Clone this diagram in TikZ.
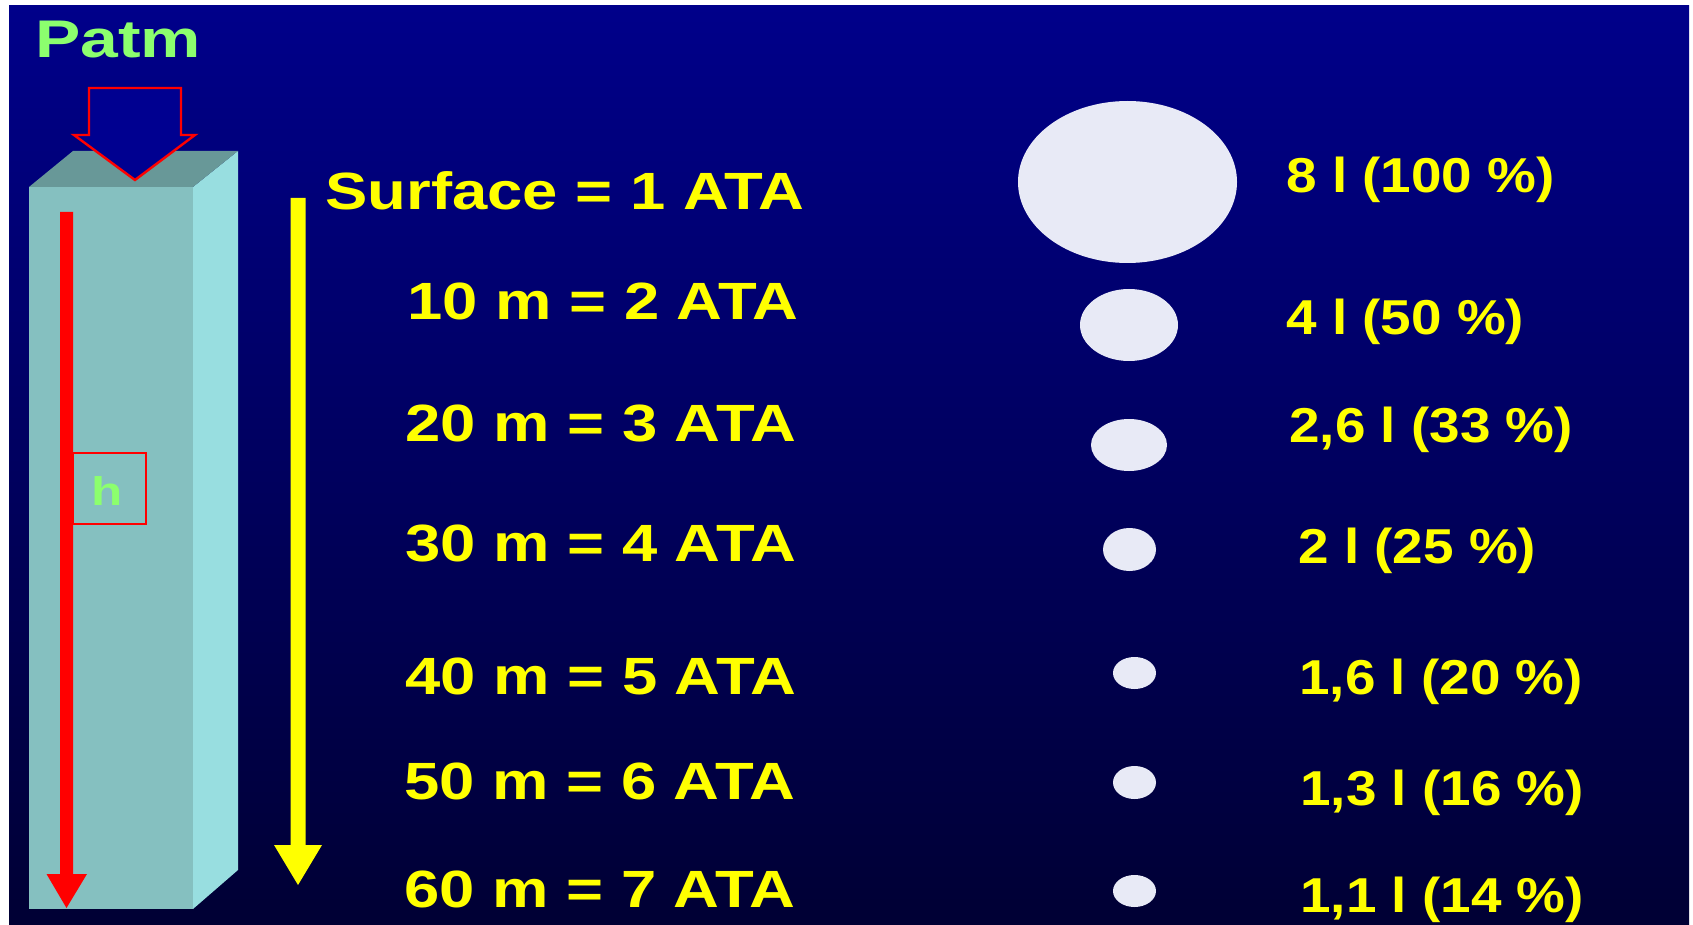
\documentclass[tikz,border=0pt]{standalone}
\usepackage{fontspec}
\newfontfamily\fLeft{Liberation Sans}[FakeStretch=1.21]
\newfontfamily\fRight{Liberation Sans}[FakeStretch=1.12]
\newfontfamily\fGreen{Liberation Sans}[FakeStretch=1.28]
\definecolor{bgtop}{RGB}{0,0,138}
\definecolor{bgbot}{RGB}{0,0,52}
\definecolor{frontc}{RGB}{133,192,192}
\definecolor{sidec}{RGB}{152,222,224}
\definecolor{topc}{RGB}{104,152,152}
\definecolor{bubblec}{RGB}{232,234,246}
\definecolor{lgreen}{RGB}{140,255,110}
\definecolor{arrowblue}{RGB}{0,0,144}
\definecolor{ared}{RGB}{255,0,0}
\definecolor{ayel}{RGB}{255,255,0}
\begin{document}
\begin{tikzpicture}[x=0.5pt,y=-0.5pt,
  depthlbl/.style={anchor=base west,inner sep=0pt,text=ayel,font=\fLeft\bfseries\fontsize{26.2}{30}\selectfont},
  vollbl/.style={anchor=base west,inner sep=0pt,text=ayel,font=\fRight\bfseries\fontsize{24.5}{28}\selectfont},
  bub/.style={fill=bubblec},
  greenlbl/.style={inner sep=0pt,text=lgreen,font=\fGreen\bfseries}]
\useasboundingbox (0,0) rectangle (1693,925);
\fill[white] (0,0) rectangle (1693,925);
\shade[top color=bgtop,bottom color=bgbot] (9,6) rectangle (1689,925);
% column
\fill[frontc] (29,187) rectangle (193,909);
\fill[sidec] (193,187) -- (238,151) -- (238,870) -- (193,909) -- cycle;
\fill[topc] (29,187) -- (73,151) -- (238,151) -- (193,187) -- cycle;
% Patm arrow
\draw[fill=arrowblue,draw=ared,line width=1.2pt,line join=miter]
  (89,88) -- (181,88) -- (181,135) -- (195,135) -- (135,180) -- (74,135) -- (89,135) -- cycle;
\node[greenlbl,anchor=base west,font=\fGreen\bfseries\fontsize{26.5}{30}\selectfont] (patm) at (35,58) {Patm};
% red arrow
\coordinate (rtop) at (66.5,212);
\coordinate (rtip) at (66.5,908);
\fill[ared] (60,212) -- (73,212) -- (73,874) -- (87,874) -- (rtip) -- (46.5,874) -- (60,874) -- cycle;
% h box
\draw[ared,line width=0.8pt] (73,453) rectangle (146,524);
\node[greenlbl,font=\fGreen\bfseries\fontsize{20}{24}\selectfont] (h) at (107,491) {h};
% yellow arrow
\fill[ayel] (290.5,198) -- (305.5,198) -- (305.5,845) -- (322,845) -- (298,885) -- (274,845) -- (290.5,845) -- cycle;
% depth labels
\node[depthlbl] (d0) at (325,210) {Surface = 1 ATA};
\node[depthlbl] (d1) at (407,320) {10 m = 2 ATA};
\node[depthlbl] (d2) at (405,441) {20 m = 3 ATA};
\node[depthlbl] (d3) at (405,561) {30 m = 4 ATA};
\node[depthlbl] (d4) at (405,694) {40 m = 5 ATA};
\node[depthlbl] (d5) at (404,799) {50 m = 6 ATA};
\node[depthlbl] (d6) at (404,907) {60 m = 7 ATA};
% bubbles
\fill[bub] (1127.5,182) ellipse [x radius=109.5,y radius=81];
\fill[bub] (1129,325) ellipse [x radius=49,y radius=36];
\fill[bub] (1129,445) ellipse [x radius=38,y radius=26];
\fill[bub] (1129.5,549.5) ellipse [x radius=26.5,y radius=21.5];
\fill[bub] (1134.5,673) ellipse [x radius=21.5,y radius=16];
\fill[bub] (1134.5,782.5) ellipse [x radius=21.5,y radius=16.5];
\fill[bub] (1134.5,891) ellipse [x radius=21.5,y radius=16];
% volume labels
\node[vollbl] (v0) at (1286,193) {8 l (100 \%)};
\node[vollbl] (v1) at (1286,335) {4 l (50 \%)};
\node[vollbl] (v2) at (1289,443) {2,6 l (33 \%)};
\node[vollbl] (v3) at (1298,563) {2 l (25 \%)};
\node[vollbl] (v4) at (1299,694) {1,6 l (20 \%)};
\node[vollbl] (v5) at (1300,805) {1,3 l (16 \%)};
\node[vollbl] (v6) at (1300,912) {1,1 l (14 \%)};
\end{tikzpicture}
\end{document}
